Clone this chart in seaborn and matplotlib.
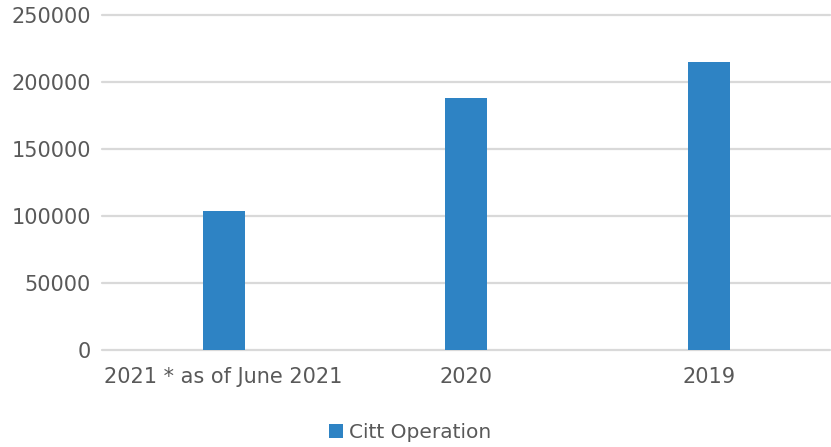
import pandas as pd
import matplotlib
matplotlib.use("Agg")
import matplotlib.pyplot as plt
import seaborn as sns

# data
categories = ["2021 * as of June 2021", "2020", "2019"]
values = [104000, 188000, 214700]
series_name = "Citt Operation"

df = pd.DataFrame({"year": categories, "ops": values, "series": series_name})

sns.set_style("white")
plt.rcParams["font.family"] = ["DejaVu Sans"]

bar_color = "#2E83C4"
text_color = "#595959"
grid_color = "#D9D9D9"

fig = plt.figure(figsize=(8.31, 4.47), dpi=100)
ax = fig.add_axes([0.123, 0.217, 0.876, 0.749])

sns.barplot(data=df, x="year", y="ops", hue="series", palette=[bar_color],
            saturation=1, width=0.173, ax=ax, zorder=3, edgecolor="none")

ax.set_ylim(0, 250000)
ax.set_yticks(range(0, 250001, 50000))
ax.set_xlim(-0.5, 2.5)
ax.grid(axis="y", color=grid_color, linewidth=1.6, zorder=0)
ax.set_axisbelow(True)
for gl in ax.get_ygridlines():
    gl.set_clip_on(False)
for s in ax.spines.values():
    s.set_visible(False)
ax.tick_params(axis="both", length=0, labelsize=15, colors=text_color)
ax.tick_params(axis="x", pad=12)
ax.tick_params(axis="y", pad=8)
ax.set_xlabel("")
ax.set_ylabel("")

ax.get_legend().remove()
handles, labels = ax.get_legend_handles_labels()
fig.legend(handles, labels, loc="center", bbox_to_anchor=(0.494, 0.033),
           frameon=False, fontsize=14.5, labelcolor=text_color,
           handlelength=0.7, handleheight=0.7, handletextpad=0.3)

fig.savefig("out.png", dpi=100)
